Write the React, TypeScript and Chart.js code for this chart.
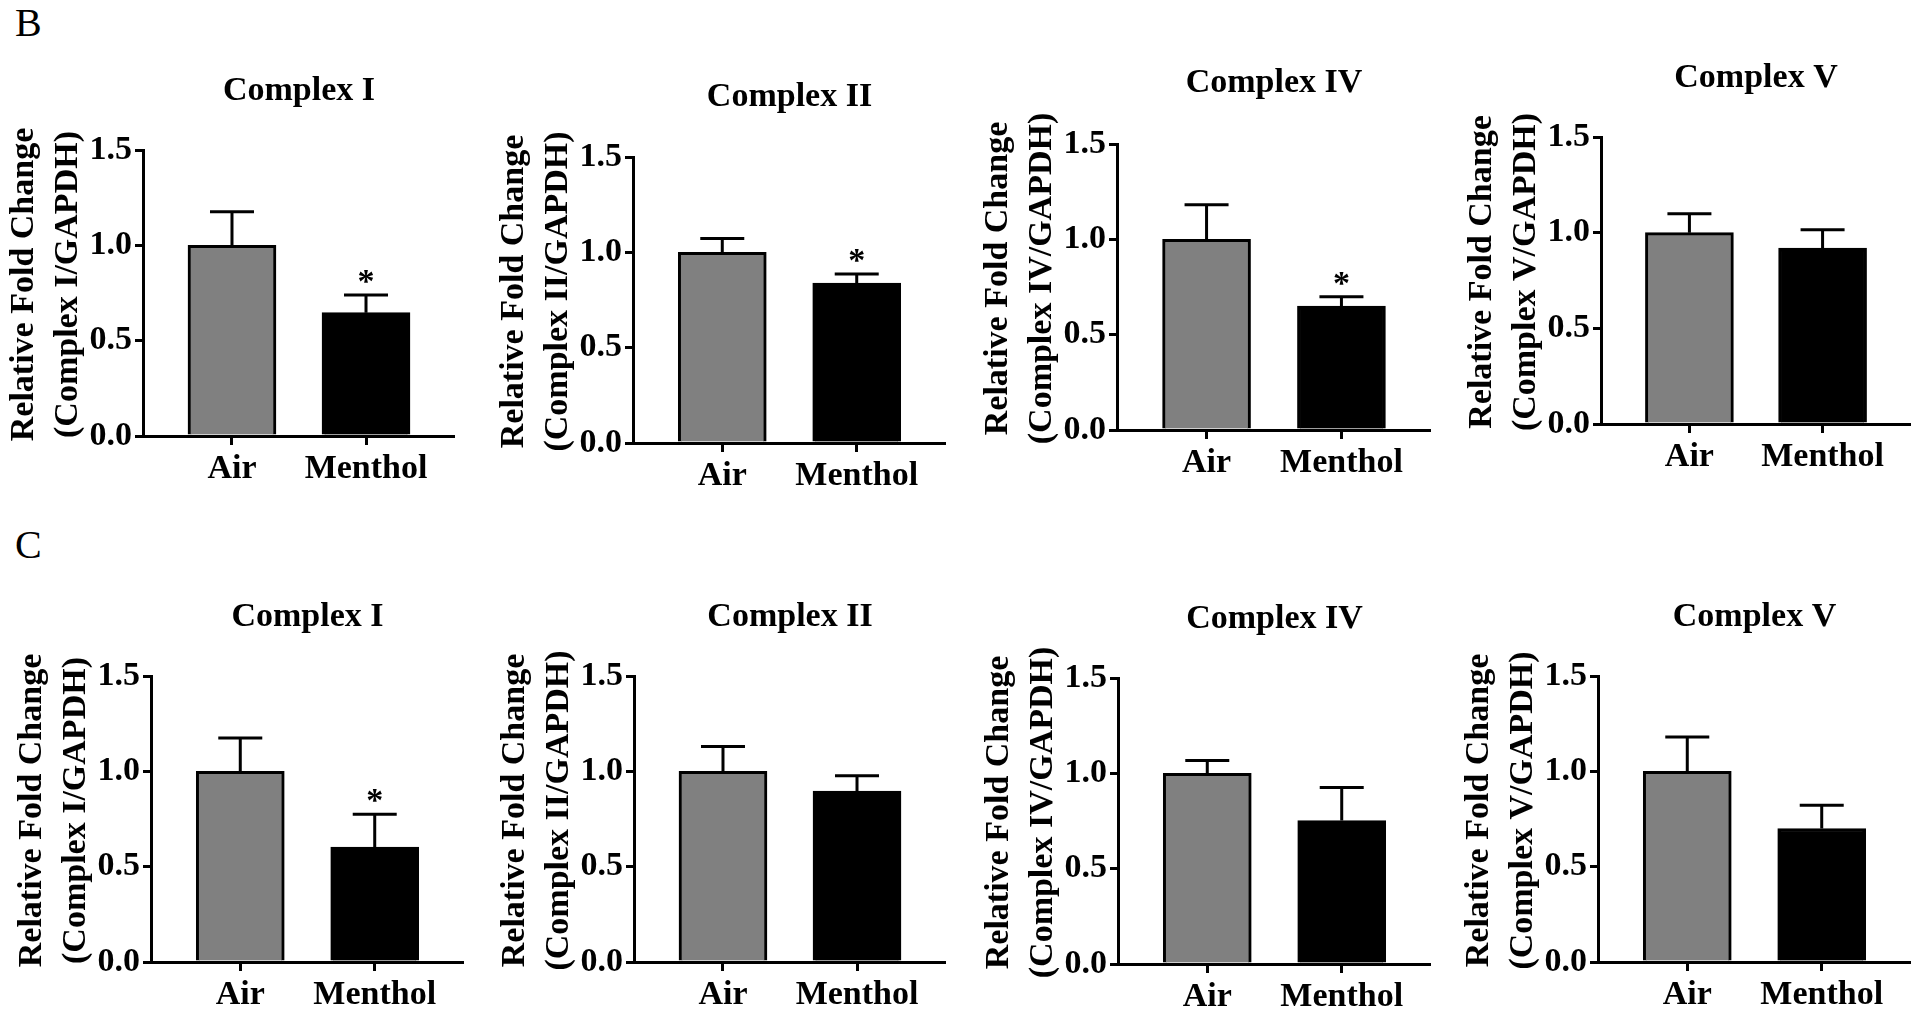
import React, { useEffect, useRef } from 'react';
import { Chart, registerables } from 'chart.js';

Chart.register(...registerables);

const FONT = "'Liberation Serif', 'Times New Roman', Times, serif";

// ---------- data ----------
const categories = ['Air', 'Menthol'];
const complexTitles = ['Complex I', 'Complex II', 'Complex IV', 'Complex V'];
const complexIds = ['I', 'II', 'IV', 'V'];
const yTickValues = [0, 0.5, 1.0, 1.5];
const panelLetters = ['B', 'C'];

// Panel B (mean and upper error)
const bAirMean = [1.0, 1.0, 1.0, 1.0];
const bAirErr = [0.176, 0.073, 0.182, 0.099];
const bMentholMean = [0.647, 0.839, 0.65, 0.919];
const bMentholErr = [0.092, 0.047, 0.049, 0.096];
const bSignificant = [true, true, true, false];

// Panel C
const cAirMean = [1.0, 1.0, 1.0, 1.0];
const cAirErr = [0.175, 0.13, 0.067, 0.18];
const cMentholMean = [0.603, 0.897, 0.752, 0.7];
const cMentholErr = [0.172, 0.08, 0.174, 0.122];
const cSignificant = [true, false, false, false];

const barColors = ['#808080', '#000000'];

// ---------- layout (page pixels) ----------
const bAxisX = [143, 633, 1117, 1601];
const bRight = [455, 946, 1431, 1911];
const bTop = [150, 157, 144, 137];
const bBottom = [436, 443, 430, 424];
const bTitleMid = [91, 97, 83, 78];

const cAxisX = [151, 634, 1118, 1598];
const cRight = [464, 946, 1431, 1911];
const cTop = [676, 676, 678, 676];
const cBottom = [962, 962, 964, 962];
const cTitleMid = [617, 617, 619, 617];

const Y_AXIS_W = 142;
const X_AXIS_H = 60;
const TITLE_LH = 40.8;

type PanelProps = {
  title: string;
  id: string;
  means: number[];
  errs: number[];
  sig: boolean;
  axisX: number;
  right: number;
  top: number;
  bottom: number;
  titleMid: number;
};

function Panel(p: PanelProps) {
  const ref = useRef<HTMLCanvasElement | null>(null);
  const L = p.axisX - Y_AXIS_W;
  const T = Math.round(p.titleMid + 0.85 - TITLE_LH / 2);
  const W = p.right - L;
  const H = p.bottom - T + X_AXIS_H;
  const titlePadBottom = p.top - T - TITLE_LH;

  useEffect(() => {
    if (!ref.current) return;
    const font = { family: FONT, size: 34, weight: 'bold' as const, lineHeight: 1.2 };
    const errorPlugin = {
      id: 'errorBars',
      afterDatasetsDraw(chart: any) {
        const { ctx } = chart;
        const xs = chart.scales.x;
        const ys = chart.scales.y;
        ctx.save();
        ctx.strokeStyle = '#000';
        ctx.fillStyle = '#000';
        ctx.lineWidth = 3;
        p.means.forEach((m, i) => {
          const px = xs.getPixelForValue(i);
          const yBar = ys.getPixelForValue(m);
          const yErr = ys.getPixelForValue(m + p.errs[i]);
          ctx.beginPath();
          ctx.moveTo(px, yBar);
          ctx.lineTo(px, yErr);
          ctx.moveTo(px - 22, yErr);
          ctx.lineTo(px + 22, yErr);
          ctx.stroke();
          if (p.sig && i === 1) {
            ctx.font = `bold 34px ${FONT}`;
            ctx.textAlign = 'center';
            ctx.textBaseline = 'alphabetic';
            ctx.fillText('*', px, yErr - 3);
          }
        });
        ctx.restore();
      },
    };
    const chart = new Chart(ref.current, {
      type: 'bar',
      data: {
        datasets: [
          {
            data: categories.map((_, i) => ({ x: i, y: p.means[i] })),
            backgroundColor: barColors,
            borderColor: '#000',
            borderWidth: 3,
            barThickness: 88,
          },
        ],
      },
      options: {
        responsive: false,
        animation: false,
        devicePixelRatio: 1,
        layout: { padding: 0 },
        plugins: {
          legend: { display: false },
          tooltip: { enabled: false },
          title: {
            display: true,
            text: p.title,
            fullSize: false,
            color: '#000',
            font,
            padding: { top: 0, bottom: titlePadBottom },
          },
        },
        scales: {
          x: {
            type: 'linear',
            min: -0.664,
            max: 1.664,
            offset: false,
            afterBuildTicks: (s: any) => {
              s.ticks = categories.map((_, i) => ({ value: i }));
            },
            afterFit: (s: any) => {
              s.height = X_AXIS_H;
            },
            ticks: {
              callback: (v: any) => categories[Number(v)] ?? '',
              font,
              color: '#000',
              padding: 4,
              maxRotation: 0,
              autoSkip: false,
            },
            grid: {
              display: true,
              drawOnChartArea: false,
              drawTicks: true,
              tickLength: 9,
              lineWidth: 3,
              color: '#000',
              offset: false,
            },
            border: { display: true, width: 3, color: '#000' },
          },
          y: {
            type: 'linear',
            min: 0,
            max: 1.5,
            afterBuildTicks: (s: any) => {
              s.ticks = yTickValues.map((v) => ({ value: v }));
            },
            afterFit: (s: any) => {
              s.width = Y_AXIS_W;
            },
            ticks: {
              callback: (v: any) => Number(v).toFixed(1),
              font,
              color: '#000',
              padding: 3,
            },
            grid: {
              display: true,
              drawOnChartArea: false,
              drawTicks: true,
              tickLength: 8,
              lineWidth: 3,
              color: '#000',
            },
            border: { display: true, width: 3, color: '#000' },
            title: {
              display: true,
              text: ['  Relative Fold Change', `  (Complex ${p.id}/GAPDH)`],
              color: '#000',
              font: { family: FONT, size: 34, weight: 'bold' as const, lineHeight: 44 / 34 },
              padding: { top: 1, bottom: 0 },
            },
          },
        },
      } as any,
      plugins: [errorPlugin],
    });
    return () => chart.destroy();
  }, []);

  return (
    <canvas
      ref={ref}
      width={W}
      height={H}
      style={{ position: 'absolute', left: L, top: T, width: W, height: H }}
    />
  );
}

export default function App() {
  const rows = [
    {
      letter: panelLetters[0],
      letterTop: 3,
      airMean: bAirMean, airErr: bAirErr, menMean: bMentholMean, menErr: bMentholErr, sig: bSignificant,
      axisX: bAxisX, right: bRight, top: bTop, bottom: bBottom, titleMid: bTitleMid,
    },
    {
      letter: panelLetters[1],
      letterTop: 525,
      airMean: cAirMean, airErr: cAirErr, menMean: cMentholMean, menErr: cMentholErr, sig: cSignificant,
      axisX: cAxisX, right: cRight, top: cTop, bottom: cBottom, titleMid: cTitleMid,
    },
  ];
  return (
    <div style={{ position: 'absolute', left: 0, top: 0, width: 1920, height: 1018, background: '#fff', overflow: 'hidden' }}>
      {rows.map((r) => (
        <React.Fragment key={r.letter}>
          <div
            style={{
              position: 'absolute', left: 15, top: r.letterTop, fontFamily: FONT,
              fontSize: 40, lineHeight: 1, color: '#000',
            }}
          >
            {r.letter}
          </div>
          {complexTitles.map((t, i) => (
            <Panel
              key={r.letter + i}
              title={t}
              id={complexIds[i]}
              means={[r.airMean[i], r.menMean[i]]}
              errs={[r.airErr[i], r.menErr[i]]}
              sig={r.sig[i]}
              axisX={r.axisX[i]}
              right={r.right[i]}
              top={r.top[i]}
              bottom={r.bottom[i]}
              titleMid={r.titleMid[i]}
            />
          ))}
        </React.Fragment>
      ))}
    </div>
  );
}
